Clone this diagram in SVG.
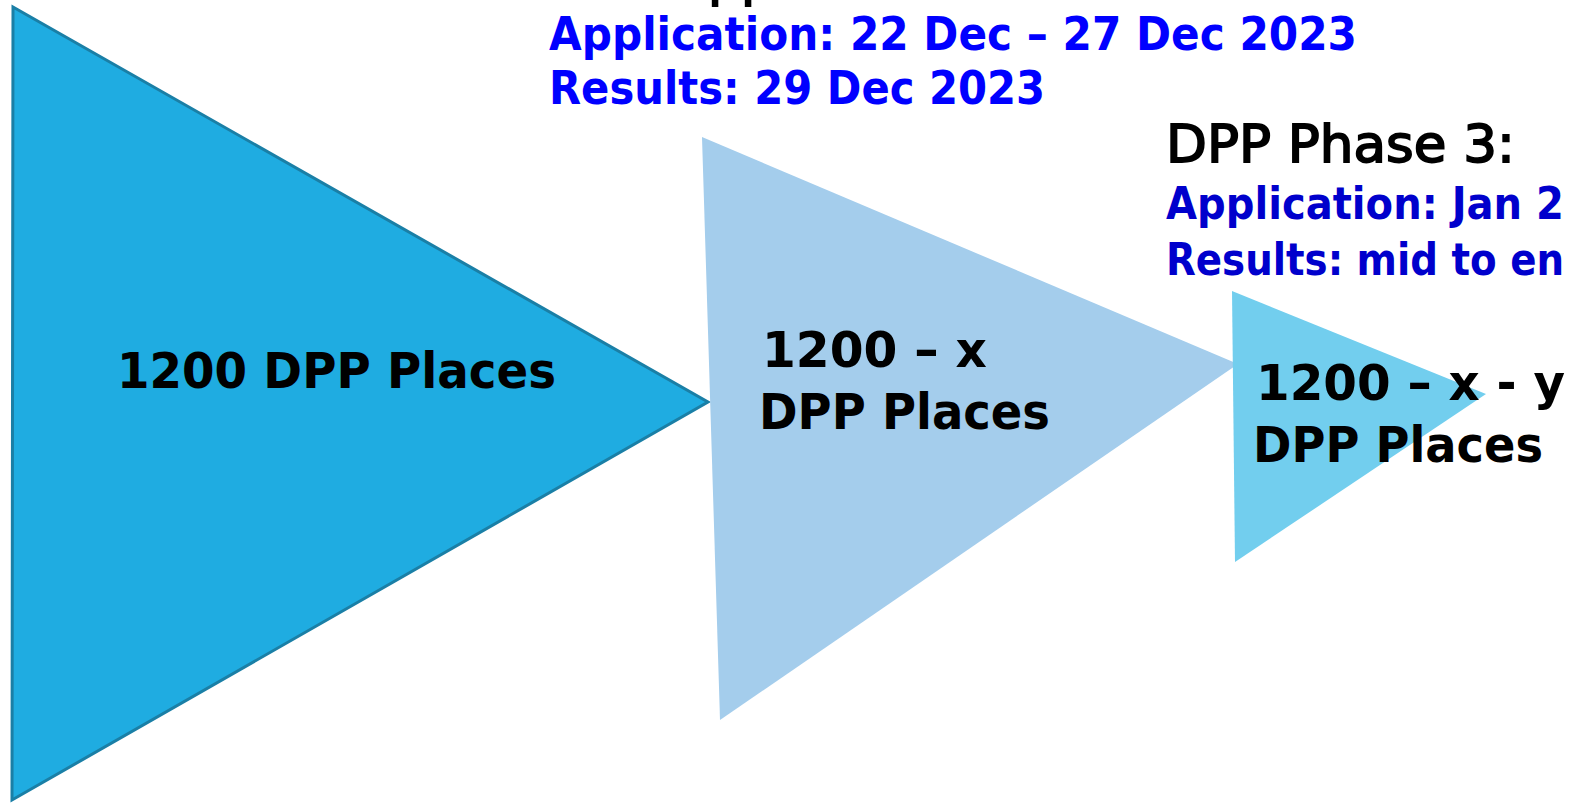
<svg xmlns="http://www.w3.org/2000/svg" width="1572" height="804" viewBox="0 0 1572 804">
<style>
.t{font-family:"DejaVu Sans","Verdana",sans-serif;}
.big{font-size:49px;font-weight:bold;fill:#000;}
.head{font-size:52px;font-weight:normal;fill:#000;stroke:#000;stroke-width:1.8px;}
.blue1{font-size:47px;font-weight:bold;fill:#0000FF;}
.blue2{font-size:45px;font-weight:bold;fill:#0000CC;}
</style>
<rect width="1572" height="804" fill="#FFFFFF"/>
<g id="stage1">
<polygon points="13,7 708,402 12,800" fill="#1FACE1" stroke="#1A7FA6" stroke-width="3" stroke-linejoin="miter"/>
<text class="t big" x="117" y="388" textLength="439" lengthAdjust="spacingAndGlyphs">1200 DPP Places</text>
</g>
<g id="stage2">
<polygon points="702,137 1238,364 720,720" fill="#A4CDEC"/>
<text class="t big" x="762" y="367" textLength="225" lengthAdjust="spacingAndGlyphs">1200 – x</text>
<text class="t big" x="759" y="429" textLength="291" lengthAdjust="spacingAndGlyphs">DPP Places</text>
</g>
<g id="stage3">
<polygon points="1232,291 1486,394 1235,562" fill="#72CEEE"/>
<text class="t big" x="1256" y="400" textLength="309" lengthAdjust="spacingAndGlyphs">1200 – x - y</text>
<text class="t big" x="1253" y="462" textLength="290" lengthAdjust="spacingAndGlyphs">DPP Places</text>
</g>
<g id="phase2-label">
<text class="t head" x="708" y="-5">pp</text>
<text class="t blue1" x="549" y="50" textLength="808" lengthAdjust="spacingAndGlyphs">Application: 22 Dec – 27 Dec 2023</text>
<text class="t blue1" x="549" y="104" textLength="496" lengthAdjust="spacingAndGlyphs">Results: 29 Dec 2023</text>
</g>
<g id="phase3-label">
<text class="t head" x="1166" y="162" textLength="349" lengthAdjust="spacingAndGlyphs">DPP Phase 3:</text>
<text class="t blue2" x="1166" y="219" textLength="398" lengthAdjust="spacingAndGlyphs">Application: Jan 2</text>
<text class="t blue2" x="1166" y="275" textLength="398" lengthAdjust="spacingAndGlyphs">Results: mid to en</text>
</g>
<g id="connectors"></g>
</svg>
